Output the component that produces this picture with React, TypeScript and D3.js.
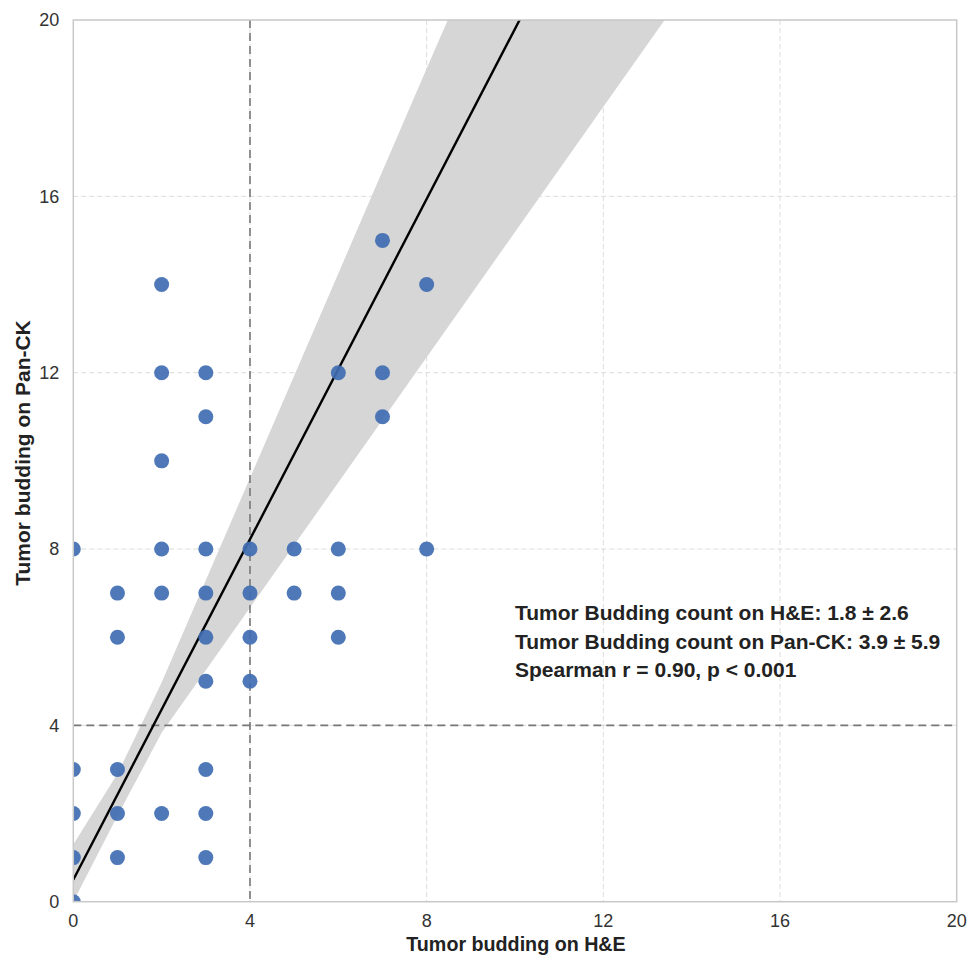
import React from "react";
import * as d3 from "d3";

// Scatter data: H&E count (x) vs Pan-CK count (y)
const heValues = [0, 0, 0, 0, 0, 1, 1, 1, 1, 1, 2, 2, 2, 2, 2, 2, 3, 3, 3, 3, 3, 3, 3, 3, 3, 4, 4, 4, 4, 5, 5, 6, 6, 6, 6, 7, 7, 7, 8, 8];
const panckValues = [8, 3, 2, 1, 0, 7, 6, 3, 2, 1, 14, 12, 10, 8, 7, 2, 12, 11, 8, 7, 6, 5, 3, 2, 1, 8, 7, 6, 5, 8, 7, 12, 8, 7, 6, 15, 12, 11, 14, 8];

// Regression line
const fitIntercept = 0.5;
const fitSlope = 1.93;

// Confidence band
const bandX = [0, 1, 2, 3, 4, 6, 8, 10, 12, 14, 16];
const bandLower = [0.0, 1.95, 3.83, 5.25, 6.67, 9.51, 12.35, 15.19, 18.03, 20.87, 23.7];
const bandUpper = [1.3, 2.9, 4.97, 7.29, 9.61, 14.25, 18.9, 23.5, 28.1, 32.7, 37.3];

const xTicks = [0, 4, 8, 12, 16, 20];
const yTicks = [0, 4, 8, 12, 16, 20];
const refX = 4;
const refY = 4;

const annotationLines = [
  "Tumor Budding count on H&E: 1.8 ± 2.6",
  "Tumor Budding count on Pan-CK: 3.9 ± 5.9",
  "Spearman r = 0.90, p < 0.001",
];
const xLabel = "Tumor budding on H&E";
const yLabel = "Tumor budding on Pan-CK";

const W = 967;
const H = 956;
const M = { left: 73.3, top: 20, right: 10.3, bottom: 54.3 };
const FONT = "'Liberation Sans', Arial, Helvetica, sans-serif";

export default function App() {
  const iw = W - M.left - M.right;
  const ih = H - M.top - M.bottom;
  const x = d3.scaleLinear().domain([0, 20]).range([0, iw]);
  const y = d3.scaleLinear().domain([0, 20]).range([ih, 0]);

  const bandData = bandX.map((v, i) => ({ x: v, lo: bandLower[i], hi: bandUpper[i] }));
  const areaPath = d3
    .area<{ x: number; lo: number; hi: number }>()
    .x((d) => x(d.x))
    .y0((d) => y(d.lo))
    .y1((d) => y(d.hi))(bandData) as string;

  const lineX = [0, 20];
  const linePath = d3
    .line<number>()
    .x((d) => x(d))
    .y((d) => y(fitIntercept + fitSlope * d))(lineX) as string;

  const points = heValues.map((v, i) => ({ x: v, y: panckValues[i] }));

  return (
    <svg
      width={W}
      height={H}
      style={{ position: "absolute", left: 0, top: 0, background: "#fff" }}
      fontFamily={FONT}
    >
      <defs>
        <clipPath id="plotclip">
          <rect x={0} y={0} width={iw} height={ih} />
        </clipPath>
      </defs>
      <g transform={`translate(${M.left},${M.top})`}>
        {/* grid */}
        {xTicks.slice(1, -1).map((t) => (
          <line key={"gx" + t} x1={x(t)} x2={x(t)} y1={0} y2={ih} stroke="#dcdcdc" strokeWidth={1} strokeDasharray="5,3" />
        ))}
        {yTicks.slice(1, -1).map((t) => (
          <line key={"gy" + t} x1={0} x2={iw} y1={y(t)} y2={y(t)} stroke="#dcdcdc" strokeWidth={1} strokeDasharray="5,3" />
        ))}
        <g clipPath="url(#plotclip)">
          <path d={areaPath} fill="#d6d6d6" />
          {/* reference lines */}
          <line x1={x(refX)} x2={x(refX)} y1={0} y2={ih} stroke="#777" strokeWidth={1.6} strokeDasharray="8,5" />
          <line x1={0} x2={iw} y1={y(refY)} y2={y(refY)} stroke="#777" strokeWidth={1.6} strokeDasharray="8,5" />
          <path d={linePath} fill="none" stroke="#000" strokeWidth={2.4} />
          {points.map((p, i) => (
            <circle key={i} cx={x(p.x)} cy={y(p.y)} r={7.5} fill="#3f6cb1" fillOpacity={0.92} />
          ))}
        </g>
        {/* border */}
        <rect x={0} y={0} width={iw} height={ih} fill="none" stroke="#c8c8c8" strokeWidth={1.5} />
        {/* ticks */}
        {xTicks.map((t) => (
          <text key={"tx" + t} x={x(t)} y={926.5 - M.top} textAnchor="middle" fontSize={18} fill="#333">
            {t}
          </text>
        ))}
        {yTicks.map((t) => (
          <text key={"ty" + t} x={-14} y={y(t)} dy="0.35em" textAnchor="end" fontSize={18} fill="#333">
            {t}
          </text>
        ))}
        {/* annotation */}
        {annotationLines.map((s, i) => (
          <text key={"an" + i} x={x(10)} y={620 - M.top + i * 28.7} fontSize={21} fontWeight="bold" fill="#222">
            {s}
          </text>
        ))}
      </g>
      <text x={M.left + iw / 2 + 1} y={951} textAnchor="middle" fontSize={19.7} fontWeight="bold" fill="#222">
        {xLabel}
      </text>
      <text
        transform={`translate(30,453) rotate(-90)`}
        textAnchor="middle"
        fontSize={21}
        fontWeight="bold"
        fill="#222"
      >
        {yLabel}
      </text>
    </svg>
  );
}
